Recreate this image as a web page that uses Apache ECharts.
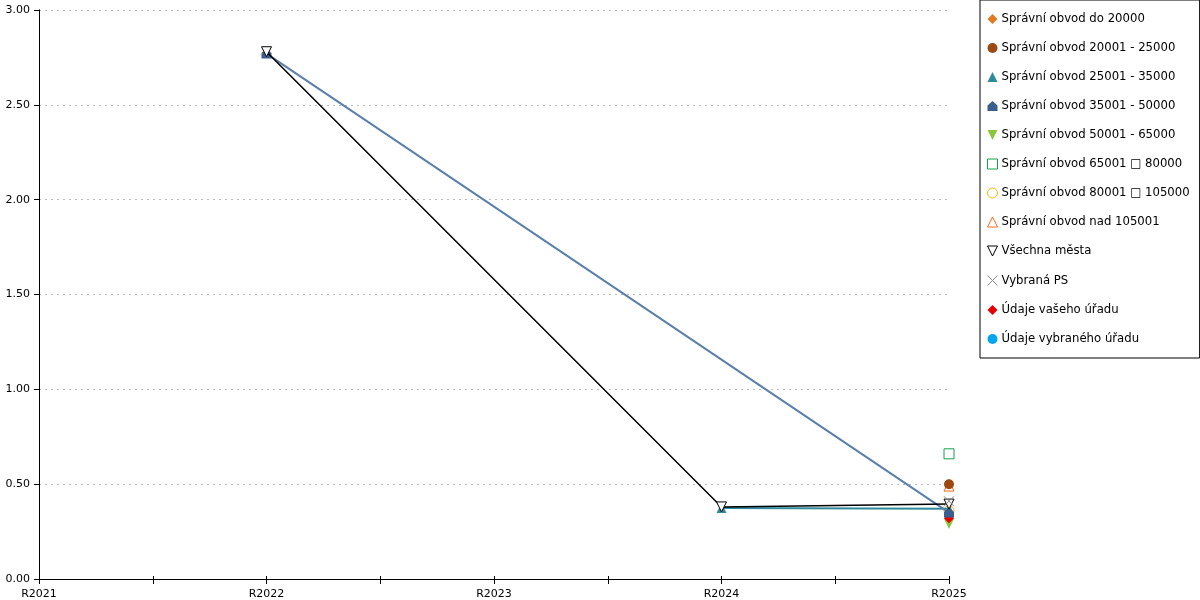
<!DOCTYPE html>
<html>
<head>
<meta charset="utf-8">
<script src="https://cdn.jsdelivr.net/npm/echarts@6/dist/echarts.min.js"></script>
<style>html,body{margin:0;padding:0;background:#fff}#c{width:1200px;height:600px}</style>
</head>
<body>
<div id="c"></div>
<script>
const categories = ['R2021', 'R2022', 'R2023', 'R2024', 'R2025'];
const yTicks = [0, 0.5, 1, 1.5, 2, 2.5, 3];

const sDo20000      = [null, null, null, null, 0.50];
const s20001_25000  = [null, null, null, null, 0.50];
const s25001_35000  = [null, null, null, 0.375, 0.37];
const s35001_50000  = [null, 2.77, null, null, 0.35];
const s50001_65000  = [null, null, null, null, 0.29];
const s65001_80000  = [null, null, null, null, 0.66];
const s80001_105000 = [null, null, null, null, 0.36];
const sNad105001    = [null, null, null, null, 0.49];
const sVsechna      = [null, 2.78, null, 0.38, 0.395];
const sVybranaPS    = [null, null, null, null, 0.41];
const sVaseho       = [null, null, null, null, 0.32];
const sVybraneho    = [null, null, null, null, 0.34];

const DOWN = 'path://M0,0 L10,0 L5,10 Z';
const HOUSE = 'path://M5,0 L10,4.5 L10,10 L0,10 L0,4.5 Z';
const CROSS = 'path://M0,0 L10,10 M10,0 L0,10';

const seriesDefs = [
  {name: 'Správní obvod do 20000', data: sDo20000, symbol: 'diamond', color: '#e07a1f', hollow: false, line: false},
  {name: 'Správní obvod 20001 - 25000', data: s20001_25000, symbol: 'circle', color: '#9c4a12', hollow: false, line: false},
  {name: 'Správní obvod 25001 - 35000', data: s25001_35000, symbol: 'triangle', color: '#2f8a9c', hollow: false, line: true, lw: 2},
  {name: 'Správní obvod 35001 - 50000', data: s35001_50000, symbol: HOUSE, color: '#3a5f8f', lineColor: '#5a7fab', hollow: false, line: true, lw: 2},
  {name: 'Správní obvod 50001 - 65000', data: s50001_65000, symbol: DOWN, color: '#8cc63f', hollow: false, line: false},
  {name: 'Správní obvod 65001 □ 80000', data: s65001_80000, symbol: 'rect', color: '#17a050', hollow: true, line: false},
  {name: 'Správní obvod 80001 □ 105000', data: s80001_105000, symbol: 'circle', color: '#f5b800', hollow: true, line: false},
  {name: 'Správní obvod nad 105001', data: sNad105001, symbol: 'triangle', color: '#f26a1b', hollow: true, line: false},
  {name: 'Všechna města', data: sVsechna, symbol: DOWN, color: '#000000', hollow: true, line: true, lw: 1.5},
  {name: 'Vybraná PS', data: sVybranaPS, symbol: CROSS, color: '#888888', hollow: true, line: false},
  {name: 'Údaje vašeho úřadu', data: sVaseho, symbol: 'diamond', color: '#e60000', hollow: false, line: false},
  {name: 'Údaje vybraného úřadu', data: sVybraneho, symbol: 'circle', color: '#00a6ee', hollow: false, line: false}
];

const zOrder = [5, 6, 4, 4, 1, 9, 3, 5, 7, 8, 2, 1];

const series = seriesDefs.map((d, k) => {
  const pts = [];
  d.data.forEach((v, i) => { if (v !== null) pts.push([i, v]); });
  const itemStyle = d.hollow
    ? {color: '#ffffff', borderColor: d.color, borderWidth: 1}
    : {color: d.color, borderColor: d.color, borderWidth: 0};
  if (d.symbol === CROSS) { itemStyle.color = 'none'; }
  return {
    name: d.name,
    type: 'line',
    data: pts,
    symbol: d.symbol,
    symbolSize: 10,
    showAllSymbol: true,
    itemStyle: itemStyle,
    lineStyle: d.line ? {color: d.lineColor || d.color, width: d.lw} : {width: 0, opacity: 0},
    z: 2 + zOrder[k],
    animation: false
  };
});

const legendData = seriesDefs.map(d => {
  const it = {name: d.name, icon: d.symbol};
  if (d.hollow) it.itemStyle = {color: d.symbol === CROSS ? 'none' : '#ffffff', borderColor: d.color, borderWidth: 1};
  else it.itemStyle = {color: d.color, borderWidth: 0};
  return it;
});

const chart = echarts.init(document.getElementById('c'), null, {renderer: 'canvas'});
chart.setOption({
  animation: false,
  backgroundColor: '#ffffff',
  grid: {left: 39, right: 251, top: 10, bottom: 21, containLabel: false},
  legend: {
    orient: 'vertical',
    left: 980, top: 0,
    data: legendData,
    itemWidth: 10, itemHeight: 10, itemGap: 15,
    padding: [12, 10, 12, 5],
    borderColor: '#000', borderWidth: 1,
    textStyle: {fontFamily: 'DejaVu Sans', fontSize: 11.7, lineHeight: 14, height: 14, color: '#000', padding: [0, 0, 0, -1], verticalAlign: 'middle'},
    selectedMode: false
  },
  xAxis: [{
    type: 'value', min: 0, max: categories.length - 1, interval: 0.5,
    axisLine: {show: true, lineStyle: {color: '#000', width: 1}},
    axisTick: {show: true, length: 5, lineStyle: {color: '#000'}},
    axisLabel: {
      color: '#000', fontFamily: 'DejaVu Sans', fontSize: 11, margin: 10,
      formatter: v => Number.isInteger(v) ? categories[v] : ''
    },
    splitLine: {show: false}
  }, {
    type: 'value', min: 0, max: categories.length - 1, interval: 0.5, position: 'bottom',
    axisLine: {show: false},
    axisTick: {show: true, inside: true, length: 3, lineStyle: {color: '#000'}},
    axisLabel: {show: false}, splitLine: {show: false}
  }],
  yAxis: [{
    type: 'value', min: yTicks[0], max: yTicks[yTicks.length - 1], interval: 0.5,
    axisLine: {show: true, lineStyle: {color: '#000', width: 1}},
    axisTick: {show: true, length: 5, lineStyle: {color: '#000'}},
    axisLabel: {color: '#000', fontFamily: 'DejaVu Sans', fontSize: 11, margin: 9, formatter: v => v.toFixed(2)},
    splitLine: {show: true, lineStyle: {color: '#bbbbbb', type: [2, 4], width: 1}}
  }, {
    type: 'value', min: 0, max: 3, interval: 0.5, position: 'right',
    axisLine: {show: true, lineStyle: {color: '#000', width: 1}},
    axisTick: {show: false}, axisLabel: {show: false}, splitLine: {show: false}
  }],
  series: series
});
</script>
</body>
</html>
